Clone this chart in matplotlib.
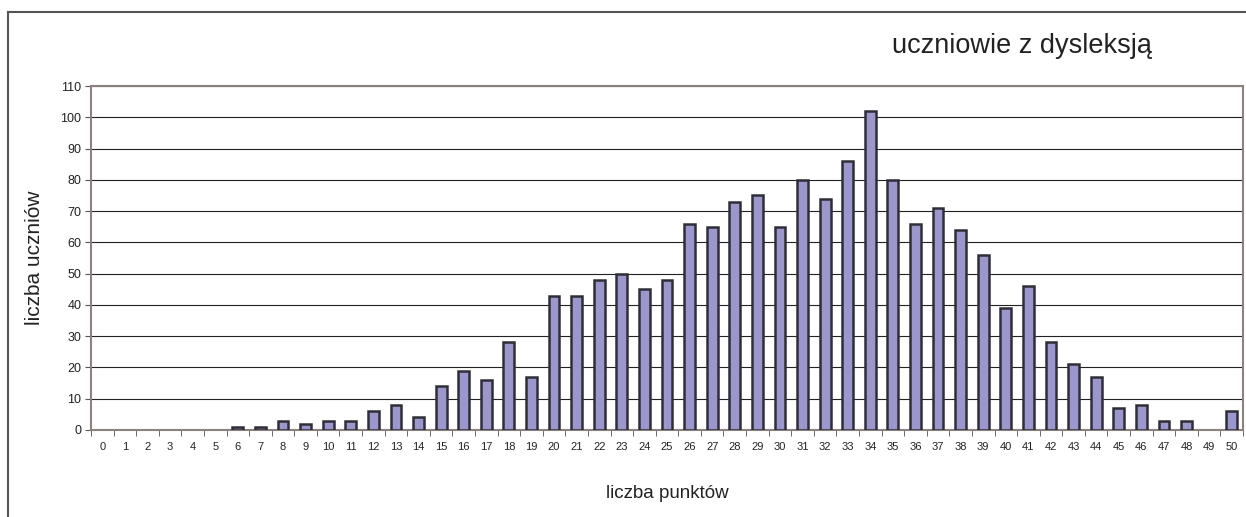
import numpy as np
import matplotlib
matplotlib.use("Agg")
import matplotlib.pyplot as plt
from matplotlib.lines import Line2D

plt.rcParams['font.family'] = ['Liberation Sans', 'DejaVu Sans']

# dane: liczba punktow i liczba uczniow
punkty = list(range(0, 51))
uczniowie = [0, 0, 0, 0, 0, 0, 1, 1, 3, 2,
             3, 3, 6, 8, 4, 14, 19, 16, 28, 17,
             43, 43, 48, 50, 45, 48, 66, 65, 73, 75,
             65, 80, 74, 86, 102, 80, 66, 71, 64, 56,
             39, 46, 28, 21, 17, 7, 8, 3, 3, 0,
             6]
y_ticks = list(range(0, 111, 10))

fig = plt.figure(figsize=(12.46, 5.17), dpi=100)
ax = fig.add_axes([91 / 1246, 1 - 430 / 517, (1243 - 91) / 1246, 344 / 517])

# slupki o wartosci 0 bez obramowania (jak w oryginale)
grubosc = [1.8 if v > 0 else 0 for v in uczniowie]
ax.bar(punkty, uczniowie, width=0.48, color='#9b96cb', edgecolor='#2e2e36',
       linewidth=grubosc, zorder=3)

ax.set_xlim(-0.5, 50.5)
ax.set_ylim(0, 110)
ax.set_yticks(y_ticks)
ax.set_yticklabels([str(v) for v in y_ticks], fontsize=9, color='#222222')
ax.set_xticks(punkty)
ax.set_xticklabels([str(p) for p in punkty], fontsize=8, color='#222222')
ax.tick_params(axis='x', which='major', length=0, pad=9)
ax.set_xticks(np.arange(-0.5, 51, 1), minor=True)
ax.tick_params(axis='x', which='minor', length=4, direction='out', color='#555555')
ax.tick_params(axis='y', length=4, direction='out', color='#555555', pad=3)

ax.yaxis.grid(True, color='#222222', linewidth=0.8, zorder=0)
ax.set_axisbelow(True)
for s in ax.spines.values():
    s.set_color('#8c817c')
    s.set_linewidth(1.5)

ax.set_ylabel('liczba uczniów', fontsize=15, color='#222222', va='center')
ax.yaxis.set_label_coords((35 - 91) / 1152, 0.5)
ax.set_xlabel('liczba punktów', fontsize=13.5, color='#222222', va='center')
ax.xaxis.set_label_coords(0.5, (430 - 493) / 344)

fig.text(1022 / 1246, 1 - 46 / 517, 'uczniowie z dysleksją', fontsize=19.5,
         ha='center', va='center', color='#222222')

# ramka wykresu
fig.add_artist(Line2D([8 / 1246, 8 / 1246], [0, 1 - 12 / 517], color='#555555', lw=1.5))
fig.add_artist(Line2D([8 / 1246, 1], [1 - 12 / 517, 1 - 12 / 517], color='#555555', lw=1.5))

fig.savefig('out.png', dpi=100)
